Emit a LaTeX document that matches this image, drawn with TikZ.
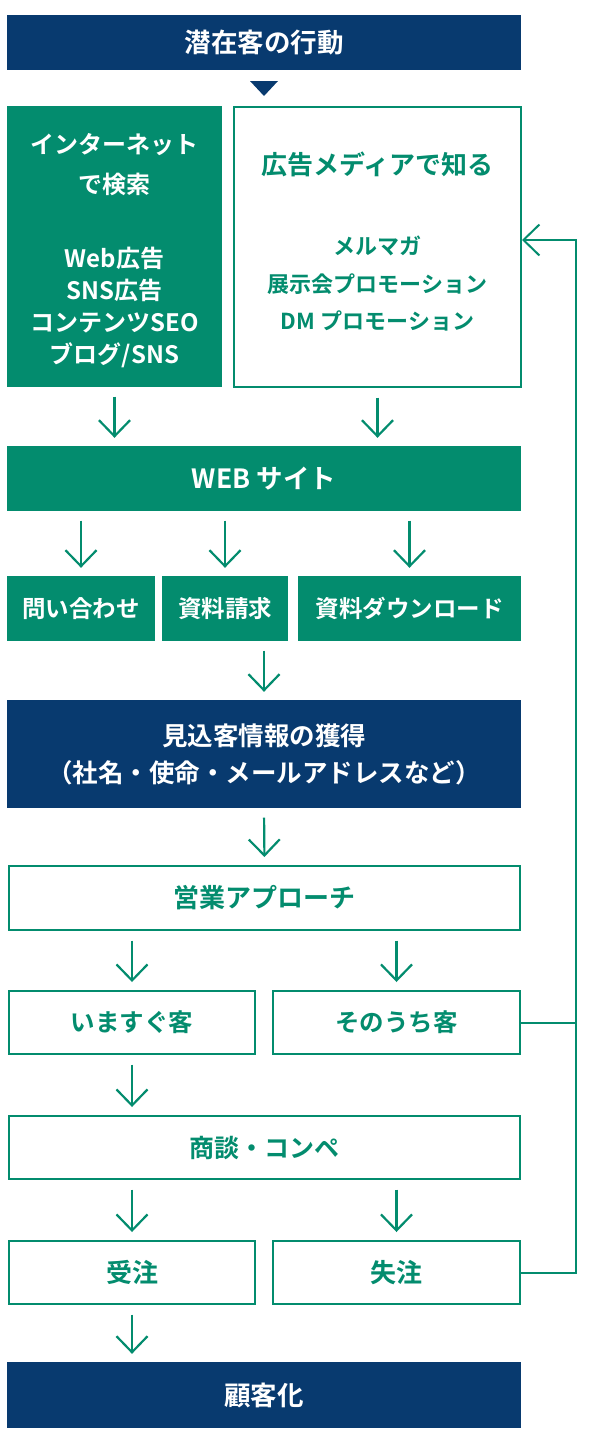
\documentclass[tikz,border=0pt]{standalone}
\usepackage{fontspec}
\setmainfont{Noto Sans CJK JP}[BoldFont={Noto Sans CJK JP Bold}]
\usetikzlibrary{arrows.meta,calc}
\definecolor{navy}{HTML}{083A6F}
\definecolor{grn}{HTML}{038C6E}
\newcommand{\fs}[2]{\fontsize{#1}{#2}\selectfont\bfseries}
\tikzset{
  base/.style={inner sep=0pt, align=center, font=\fs{25}{32.5}},
  navybox/.style={base, fill=navy, text=white},
  greenbox/.style={base, fill=grn, text=white},
  linebox/.style={base, draw=grn, line width=2pt, text=grn, fill=white},
  boxtext/.style={inner sep=0pt, align=center},
  arr/.style={draw=grn, line width=2.2pt, -{Straight Barb[length=16pt,width=31pt,line width=2.2pt]}, shorten <=9.5pt, shorten >=8pt},
  fbline/.style={draw=grn, line width=2pt},
}
\begin{document}
\begin{tikzpicture}[x=1pt,y=-1pt]
\useasboundingbox (0,0) rectangle (591,1445);
\node[navybox, font=\fs{26.5}{32}, minimum width=514pt, minimum height=55pt] (top) at (264,42.5) {潜在客の行動};
\fill[navy] (250,81) -- (278,81) -- (264,96) -- cycle;
\node[greenbox, minimum width=215pt, minimum height=281pt] (net) at (114.5,246.5) {};
\node[boxtext, text=white, font=\fs{24}{32}, yshift=-4pt] (nettext) at (net.center)
  {インターネット\\[8pt]で検索\\[42pt]Web広告\\SNS広告\\コンテンツSEO\\ブログ/SNS};
\node[linebox, minimum width=287pt, minimum height=280pt] (media) at (377.5,247) {};
\node[boxtext, text=grn, font=\fs{22}{32.5}, yshift=5pt] (mediatext) at (media.center)
  {{\fs{26}{32.5}広告メディアで知る}\\[47.5pt]メルマガ\\[5pt]展示会プロモーション\\[5pt]DM プロモーション};
\node[greenbox, font=\fs{26.5}{32}, minimum width=514pt, minimum height=65pt] (web) at (264,478.5) {WEB サイト};
\node[greenbox, font=\fs{23.5}{32}, minimum width=148pt, minimum height=65pt] (q1) at (81,608.5) {問い合わせ};
\node[greenbox, font=\fs{23.5}{32}, minimum width=126pt, minimum height=65pt] (q2) at (225,608.5) {資料請求};
\node[greenbox, font=\fs{23.5}{32}, minimum width=223pt, minimum height=65pt] (q3) at (409.5,608.5) {資料ダウンロード};
\node[navybox, font=\fs{25.5}{32.5}, minimum width=514pt, minimum height=108pt] (lead) at (264,754)
  {見込客情報の獲得\\[4.5pt]（社名・使命・メールアドレスなど）};
\node[linebox, font=\fs{26}{32}, minimum width=511pt, minimum height=64pt] (sales) at (264.5,898) {営業アプローチ};
\node[linebox, font=\fs{24.5}{32}, minimum width=246pt, minimum height=63pt] (now) at (132,1022.5) {いますぐ客};
\node[linebox, font=\fs{24.5}{32}, minimum width=247pt, minimum height=63pt] (later) at (396.5,1022.5) {そのうち客};
\node[linebox, font=\fs{25}{32}, minimum width=511pt, minimum height=63pt] (deal) at (264.5,1147.5) {商談・コンペ};
\node[linebox, font=\fs{26}{32}, minimum width=246pt, minimum height=63pt] (won) at (132,1272.5) {受注};
\node[linebox, font=\fs{26}{32}, minimum width=247pt, minimum height=63pt] (lost) at (396.5,1272.5) {失注};
\node[navybox, font=\fs{26.5}{32}, minimum width=514pt, minimum height=66pt] (cust) at (264,1395) {顧客化};
% arrows
\draw[arr] (net.south) -- (net.south |- web.north);
\draw[arr] (media.south) -- (media.south |- web.north);
\draw[arr] (q1.north |- web.south) -- (q1.north);
\draw[arr] (q2.north |- web.south) -- (q2.north);
\draw[arr] (q3.north |- web.south) -- (q3.north);
\draw[arr] (lead.north |- q2.south) -- (lead.north);
\draw[arr] (lead.south) -- (sales.north);
\draw[arr] (now.north |- sales.south) -- (now.north);
\draw[arr] (later.north |- sales.south) -- (later.north);
\draw[arr] (now.south) -- (now.south |- deal.north);
\draw[arr] (won.north |- deal.south) -- (won.north);
\draw[arr] (lost.north |- deal.south) -- (lost.north);
\draw[arr] (won.south) -- (won.south |- cust.north);
% feedback
\coordinate (fb) at (576,240);
\draw[fbline] (later.east) -- (later.east -| fb);
\draw[fbline, -{Straight Barb[length=16pt,width=31pt,line width=2pt]}] (lost.east) -| (fb) -- (fb -| media.east);
\end{tikzpicture}
\end{document}
